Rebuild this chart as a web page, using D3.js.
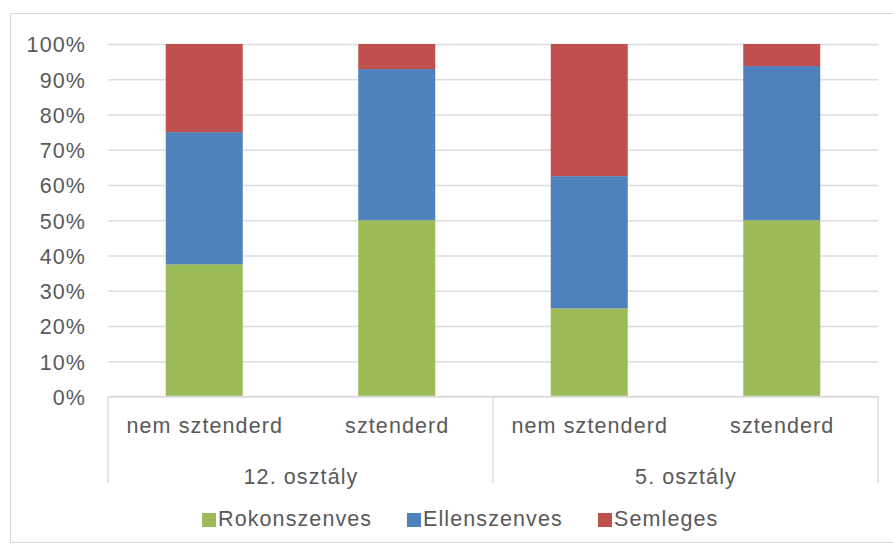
<!DOCTYPE html>
<html><head><meta charset="utf-8">
<script src="https://cdn.jsdelivr.net/npm/d3@7"></script>
<style>body{margin:0;background:#fff}svg{display:block}text{font-family:"Liberation Sans",Arial,sans-serif;fill:#595959;letter-spacing:1.1px}</style>
</head><body>
<script>
const groups = ["12. osztály", "12. osztály", "5. osztály", "5. osztály"];
const categories = ["nem sztenderd", "sztenderd", "nem sztenderd", "sztenderd"];
const seriesNames = ["Rokonszenves", "Ellenszenves", "Semleges"];
const rokonszenves = [37.5, 50, 25, 50];
const ellenszenves = [37.5, 42.9, 37.5, 43.75];
const semleges = [25, 7.1, 37.5, 6.25];
const colors = ["#9bbb59", "#4f81bd", "#c0504d"];
const yTicks = [0,10,20,30,40,50,60,70,80,90,100];

(function(){
const W = 893, H = 545, FS = 21.5;
const svg = d3.select("body").append("svg").attr("width", W).attr("height", H);
svg.append("rect").attr("x",10.5).attr("y",13.5).attr("width",W-10).attr("height",529).attr("fill","#fff").attr("stroke","#d9d9d9");

const pL = 108, pR = 878, pT = 44, pB = 396.5;
const x = d3.scaleBand().domain(d3.range(categories.length)).range([pL,pR]).paddingInner(0.6).paddingOuter(0.3);
const y = d3.scaleLinear().domain([0,100]).range([pB, pT]);

const yAxis = d3.axisLeft(y).tickValues(yTicks).tickSize(-(pR-pL)).tickFormat(d=>d+"%").tickPadding(22);
const ga = svg.append("g").attr("transform",`translate(${pL},0)`).call(yAxis);
ga.select(".domain").remove();
ga.selectAll(".tick line").attr("stroke","#dcdcdc").attr("stroke-width",1.5);
ga.selectAll(".tick text").attr("font-size",FS).attr("font-family","Liberation Sans, Arial, sans-serif").attr("dy","0.36em").style("fill","#595959");

const table = categories.map((c,i)=>({i, Rokonszenves:rokonszenves[i], Ellenszenves:ellenszenves[i], Semleges:semleges[i]}));
const stack = d3.stack().keys(seriesNames)(table);
svg.append("g").selectAll("g").data(stack).join("g").attr("fill",(d,i)=>colors[i])
  .selectAll("rect").data(d=>d).join("rect")
  .attr("x",d=>x(d.data.i)).attr("width",x.bandwidth())
  .attr("y",d=>y(d[1])).attr("height",d=>y(d[0])-y(d[1]));

svg.append("line").attr("x1",pL).attr("x2",pR).attr("y1",pB).attr("y2",pB).attr("stroke","#dcdcdc").attr("stroke-width",1.5);
const step = x.step();
const groupNames = [...new Set(groups)];
const bounds = [pL, pL + 2*step, pR];
bounds.forEach(b=>svg.append("line").attr("x1",b).attr("x2",b).attr("y1",pB).attr("y2",483).attr("stroke","#dcdcdc").attr("stroke-width",1.5));
categories.forEach((c,i)=>svg.append("text").attr("x",x(i)+x.bandwidth()/2+0.5).attr("y",433).attr("text-anchor","middle").attr("font-size",FS).text(c));
groupNames.forEach((g,k)=>svg.append("text").attr("x",(bounds[k]+bounds[k+1])/2+0.5).attr("y",484).attr("text-anchor","middle").attr("font-size",FS).text(g));

const legX = [202, 407, 598];
const leg = svg.append("g");
seriesNames.forEach((s,i)=>{
  leg.append("rect").attr("x",legX[i]).attr("y",513).attr("width",14).attr("height",14).attr("fill",colors[i]);
  leg.append("text").attr("x",legX[i]+16).attr("y",526).attr("font-size",FS).text(s);
});
})();
</script>
</body></html>
